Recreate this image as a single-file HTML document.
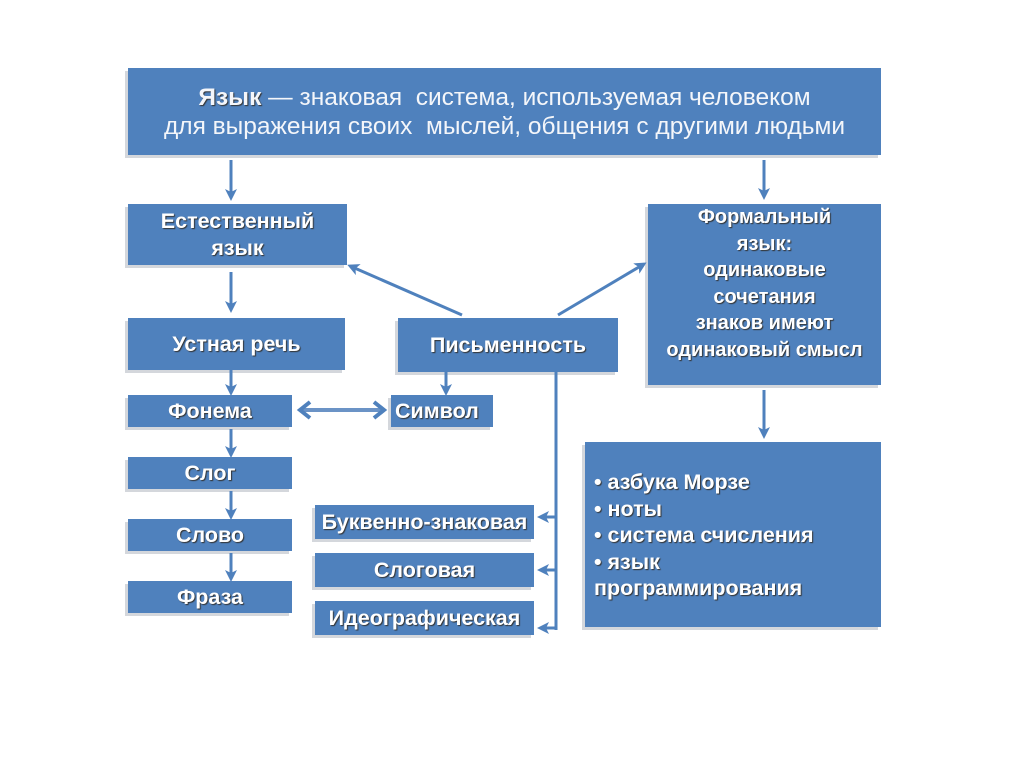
<!DOCTYPE html>
<html><head><meta charset="utf-8"><style>
body{margin:0;width:1024px;height:768px;background:#fff;position:relative;overflow:hidden;font-family:"Liberation Sans",sans-serif}
.b{position:absolute;background:#4f81bd;color:#fff;font-weight:bold;text-align:center;box-shadow:-3px 3px 0 #d4d7dc;text-shadow:1px 1px 1px #333;display:flex;align-items:center;justify-content:center;font-size:21.5px;line-height:26px;white-space:nowrap}
svg{position:absolute;left:0;top:0}
</style></head><body>
<div class="b" style="left:128px;top:68px;width:753px;height:87px;font-weight:normal;font-size:24.5px;line-height:29px;text-shadow:none;color:#f4f6fa">
<div><b style="text-shadow:1px 1px 1px #333">Язык</b> — знаковая&nbsp; система, используемая человеком<br>для выражения своих&nbsp; мыслей, общения с другими людьми</div></div>
<div class="b" style="left:128px;top:204px;width:219px;height:61px;align-items:flex-start;padding-top:4px;box-sizing:border-box;line-height:27px"><div>Естественный<br>язык</div></div>
<div class="b" style="left:648px;top:204px;width:233px;height:181px;align-items:flex-start;box-sizing:border-box;padding-top:0px;line-height:26.5px;font-size:20px"><div>Формальный<br>язык:<br>одинаковые<br>сочетания<br>знаков имеют<br>одинаковый смысл</div></div>
<div class="b" style="left:128px;top:318px;width:217px;height:52px">Устная речь</div>
<div class="b" style="left:398px;top:318px;width:220px;height:54px">Письменность</div>
<div class="b" style="left:128px;top:395px;width:164px;height:32px">Фонема</div>
<div class="b" style="left:391px;top:395px;width:102px;height:32px;justify-content:flex-start;padding-left:4px;box-sizing:border-box">Символ</div>
<div class="b" style="left:128px;top:457px;width:164px;height:32px">Слог</div>
<div class="b" style="left:128px;top:519px;width:164px;height:32px">Слово</div>
<div class="b" style="left:128px;top:581px;width:164px;height:32px">Фраза</div>
<div class="b" style="left:315px;top:505px;width:219px;height:34px">Буквенно-знаковая</div>
<div class="b" style="left:315px;top:553px;width:219px;height:34px">Слоговая</div>
<div class="b" style="left:315px;top:601px;width:219px;height:34px">Идеографическая</div>
<div class="b" style="left:585px;top:442px;width:296px;height:185px;justify-content:flex-start;align-items:flex-start;text-align:left;padding:27px 0 0 9px;box-sizing:border-box;line-height:26.5px"><div>• азбука Морзе<br>• ноты<br>• система счисления<br>• язык<br>программирования</div></div>
<svg width="1024" height="768">
<defs><marker id="a" markerWidth="4" markerHeight="4" refX="3" refY="2" orient="auto" markerUnits="strokeWidth"><path d="M0,0 L4,2 L0,4 L1,2z" fill="#4f81bd"/></marker></defs>
<g stroke="#4f81bd" stroke-width="3" fill="none" marker-end="url(#a)">
<line x1="231" y1="160" x2="231" y2="198"/>
<line x1="764" y1="160" x2="764" y2="197"/>
<line x1="231" y1="272" x2="231" y2="310"/>
<line x1="231" y1="370" x2="231" y2="393"/>
<line x1="231" y1="429" x2="231" y2="455"/>
<line x1="231" y1="491" x2="231" y2="517"/>
<line x1="231" y1="553" x2="231" y2="579"/>
<line x1="446" y1="372" x2="446" y2="393"/>
<line x1="764" y1="390" x2="764" y2="436"/>
<line x1="462" y1="315" x2="350" y2="266"/>
<line x1="558" y1="315" x2="644" y2="264"/>
<line x1="556" y1="517" x2="540" y2="517"/>
<line x1="556" y1="570" x2="540" y2="570"/>
<line x1="556" y1="628" x2="540" y2="628"/>
</g>
<line x1="556" y1="372" x2="556" y2="630" stroke="#4f81bd" stroke-width="3"/>
<g stroke="#4f81bd" stroke-width="4" fill="none">
<line x1="300" y1="410" x2="384" y2="410" stroke="#6b93c6"/>
<polyline points="310,402 300,410 310,418"/>
<polyline points="374,402 384,410 374,418"/>
</g>
</svg>
</body></html>
